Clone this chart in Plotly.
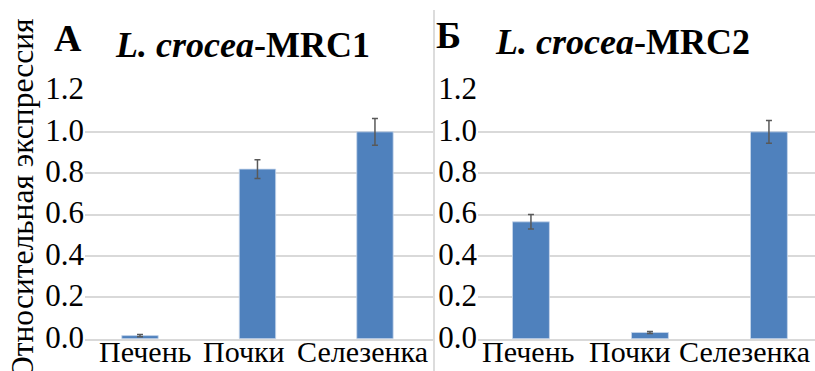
import plotly.graph_objects as go

categories = ["Печень", "Почки", "Селезенка"]
mrc1_values = [0.015, 0.82, 1.0]
mrc1_errors = [0.005, 0.045, 0.065]
mrc2_values = [0.565, 0.03, 1.0]
mrc2_errors = [0.035, 0.005, 0.055]
y_ticks = [0.0, 0.2, 0.4, 0.6, 0.8, 1.0, 1.2]
y_tick_labels = ["0.0", "0.2", "0.4", "0.6", "0.8", "1.0", "1.2"]
panel_letters = ["А", "Б"]
panel_titles = ["<b><i>L. crocea</i>-MRC1</b>", "<b><i>L. crocea</i>-MRC2</b>"]
y_title = "Относительная экспрессия"

W, H = 815, 371
FONT = "Liberation Serif"
BAR = "#4F81BD"

fig = go.Figure()
xs = list(range(len(categories)))
for i, (vals, errs) in enumerate([(mrc1_values, mrc1_errors), (mrc2_values, mrc2_errors)]):
    fig.add_trace(go.Bar(
        x=xs, y=vals, width=0.31,
        marker=dict(color=BAR, line=dict(color="rgba(200,215,235,0.8)", width=1)),
        error_y=dict(type="data", array=errs, visible=True, color="#595959", thickness=1.5, width=3),
        xaxis="x" if i == 0 else "x2", yaxis="y" if i == 0 else "y2",
        showlegend=False,
    ))

def px_x(p):
    return p / W

def px_y(p):
    return (H - p) / H

ydom = [px_y(338.7), px_y(90.5)]
common_y = dict(range=[0, 1.2], tickvals=y_ticks, ticktext=y_tick_labels,
                showgrid=True, gridcolor="#D9D9D9", gridwidth=1.5,
                zeroline=False, showline=False, ticks="", ticklabelshift=-2,
                automargin=False,
                tickfont=dict(family=FONT, size=31, color="black"), domain=ydom)
common_x = dict(tickvals=xs, ticktext=categories, showgrid=False, zeroline=False,
                showline=True, linecolor="#D9D9D9", linewidth=1.5, ticks="",
                showticklabels=False, automargin=False)

layout = dict(
    template="none",
    width=W, height=H, margin=dict(l=0, r=0, t=0, b=0, pad=0, autoexpand=False),
    paper_bgcolor="white", plot_bgcolor="white",
    font=dict(family=FONT, color="black"),
    xaxis=dict(common_x, domain=[px_x(85), px_x(433)], range=[-0.468, 2.494], anchor="y"),
    yaxis=dict(common_y, anchor="x"),
    xaxis2=dict(common_x, domain=[px_x(478), 1.0], range=[-0.445, 2.387], anchor="y2"),
    yaxis2=dict(common_y, anchor="x2"),
    bargap=0.69,
    showlegend=False,
)
fig.update_layout(**layout)

# divider line
fig.add_shape(type="line", xref="paper", yref="paper",
              x0=px_x(434), x1=px_x(434), y0=0, y1=px_y(10),
              line=dict(color="#D0D0D0", width=1.5))

anns = []
anns.append(dict(text="<b>" + panel_letters[0] + "</b>", x=px_x(67.5), y=px_y(37.5), xref="paper", yref="paper",
                 showarrow=False, font=dict(family=FONT, size=38, color="black"), xanchor="center", yanchor="middle"))
anns.append(dict(text="<b>" + panel_letters[1] + "</b>", x=px_x(448), y=px_y(35.5), xref="paper", yref="paper",
                 showarrow=False, font=dict(family=FONT, size=38, color="black"), xanchor="center", yanchor="middle"))
anns.append(dict(text=panel_titles[0], x=px_x(242), y=px_y(44.5), xref="paper", yref="paper",
                 showarrow=False, font=dict(family=FONT, size=36, color="black"), xanchor="center", yanchor="middle"))
anns.append(dict(text=panel_titles[1], x=px_x(622.5), y=px_y(42), xref="paper", yref="paper",
                 showarrow=False, font=dict(family=FONT, size=36, color="black"), xanchor="center", yanchor="middle"))
anns.append(dict(text=y_title, x=px_x(22), y=px_y(199), xref="paper", yref="paper", textangle=-90,
                 showarrow=False, font=dict(family=FONT, size=31.5, color="black"), xanchor="center", yanchor="middle"))

# category labels (Excel-style squeezed placement)
label_shifts = [[5, -13, -12.5], [-2.5, -19.5, -24]]
for p, axname in enumerate(["x", "x2"]):
    for i, cat in enumerate(categories):
        anns.append(dict(text=cat, x=xs[i], y=px_y(351.5), xref=axname, yref="paper",
                         xshift=label_shifts[p][i], showarrow=False,
                         font=dict(family=FONT, size=30, color="black"),
                         xanchor="center", yanchor="middle"))
fig.update_layout(annotations=anns)

fig.write_html("out.html")
